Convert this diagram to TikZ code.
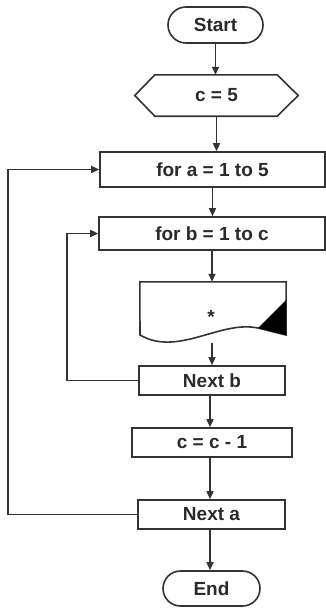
\documentclass[tikz,border=0pt]{standalone}
\usepackage{fontspec}
\setmainfont{Liberation Sans}
\usetikzlibrary{arrows.meta}
\definecolor{linec}{HTML}{333333}
\definecolor{textc}{HTML}{2A2A2A}
\tikzset{
  lbl/.style={font=\bfseries\fontsize{19}{21}\selectfont, text=textc, inner sep=0pt},
  box/.style={lbl, draw=linec, line width=1.6pt, fill=white, rectangle},
  term/.style={box, rounded corners=#1},
  ghost/.style={lbl, rectangle, draw=none},
  arr/.style={draw=linec, line width=1.5pt, -{Triangle[length=8pt,width=7pt]}},
  outline/.style={draw=linec, line width=1.6pt, fill=white}
}
\begin{document}
\begin{tikzpicture}[x=1pt,y=-1pt]
\useasboundingbox (0,0) rectangle (326,608);
% nodes
\node[term=18pt, minimum width=95pt, minimum height=36pt] (start) at (215.5,25) {Start};
\node[ghost, minimum width=163pt, minimum height=41pt] (hex) at (216.5,95.5) {};
\node[box, minimum width=225pt, minimum height=35pt] (fora) at (212.5,169.5) {for a = 1 to 5};
\node[box, minimum width=226pt, minimum height=33pt] (forb) at (212,233.5) {for b = 1 to c};
\node[ghost, minimum width=146pt, minimum height=61pt] (doc) at (213,312.5) {};
\node[box, minimum width=146pt, minimum height=29pt] (nextb) at (212,380.5) {Next b};
\node[box, minimum width=160pt, minimum height=29pt] (cc) at (212,442.5) {c = c - 1};
\node[box, minimum width=147pt, minimum height=29pt] (nexta) at (211.5,514.5) {Next a};
\node[term=17.5pt, minimum width=97pt, minimum height=35pt] (end) at (211.5,588.5) {End};
% hexagon shape
\path[outline] (hex.west) -- ([xshift=20pt]hex.north west) -- ([xshift=-21pt]hex.north east)
  -- (hex.east) -- ([xshift=-21pt]hex.south east) -- ([xshift=20pt]hex.south west) -- cycle;
\node[lbl] (hexlbl) at (hex) {c = 5};
% document shape
\coordinate (docbr) at (286,335);
\coordinate (doctri) at (258,328);
\coordinate (doctt) at (286,300);
\coordinate (docbl) at (140,335);
\coordinate (docbot) at (212,343);
\path[outline] (doc.north west) -- (doc.north east) -- (docbr) -- (doctri)
  .. controls (220,320) and (178,357) .. (docbl) -- cycle;
\fill[black] (doctri) -- (doctt) -- (docbr) -- cycle;
\node[lbl] (star) at (211,317) {*};
% connectors
\draw[arr] (start.south) -- (start.south |- hex.north);
\draw[arr] (hex.south) -- (hex.south |- fora.north);
\draw[arr] (fora.south) -- (fora.south |- forb.north);
\draw[arr] (forb.south) -- (forb.south |- doc.north);
\draw[arr] (docbot) -- (docbot |- nextb.north);
\coordinate (c1) at (210,395);
\draw[arr] (c1) -- (c1 |- cc.north);
\coordinate (c2) at (210,457);
\draw[arr] (c2) -- (c2 |- nexta.north);
\coordinate (c3) at (210,529);
\draw[arr] (c3) -- (c3 |- end.north);
% loops
\coordinate (lb) at (67,380.5);
\draw[arr] (nextb.west) -- (lb) |- (forb.west);
\coordinate (la) at (8,514.5);
\draw[arr] (nexta.west) -- (la) |- (fora.west);
\end{tikzpicture}
\end{document}
